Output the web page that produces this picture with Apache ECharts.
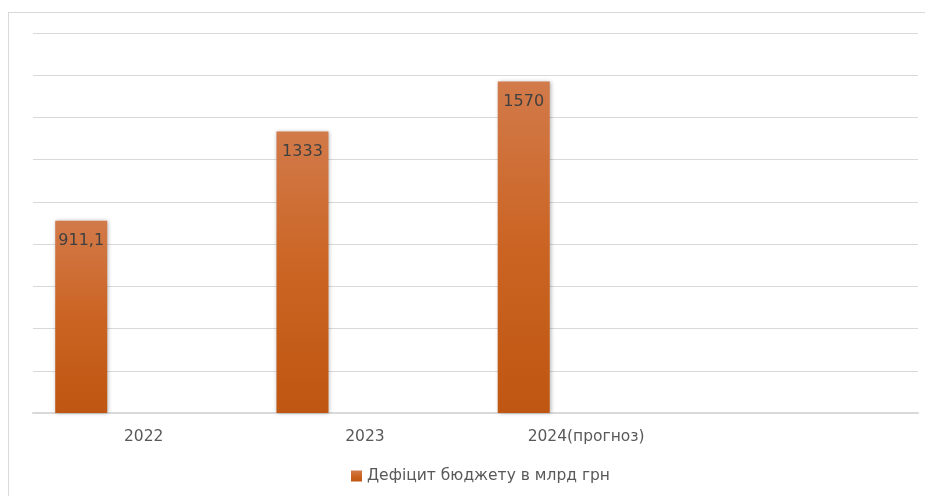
<!DOCTYPE html>
<html>
<head>
<meta charset="utf-8">
<script src="https://cdn.jsdelivr.net/npm/echarts@6/dist/echarts.min.js"></script>
<style>
html,body{margin:0;padding:0;background:#fff;}
#frame{position:absolute;left:8px;top:12px;width:917px;height:484px;border-left:1px solid #d9d9d9;border-top:1px solid #d9d9d9;}
#chart{position:absolute;left:0;top:0;width:925px;height:496px;}
</style>
</head>
<body>
<div id="frame"></div>
<div id="chart"></div>
<script>
const categories = ['2022', '2023', '2024(прогноз)', ''];
const deficit = [911.1, 1333, 1570, null];
const emptySeries = [null, null, null, null];
const seriesName = 'Дефіцит бюджету в млрд грн';
const yMax = 1800;
const yInterval = 200;

const chart = echarts.init(document.getElementById('chart'), null, {renderer: 'canvas'});
const barColor = new echarts.graphic.LinearGradient(0, 0, 0, 1, [
  {offset: 0, color: '#d27a4a'},
  {offset: 0.5, color: '#cb6423'},
  {offset: 1, color: '#bf5611'}
]);
const FONT = 'DejaVu Sans';
chart.setOption({
  animation: false,
  textStyle: {fontFamily: FONT},
  grid: {left: 33, right: 7, top: 33, bottom: 83, containLabel: false},
  legend: {
    data: [seriesName],
    top: 463,
    left: 346,
    itemWidth: 11,
    itemHeight: 11,
    itemGap: 4,
    icon: 'rect',
    textStyle: {color: '#595959', fontSize: 15.5, fontFamily: FONT}
  },
  xAxis: {
    type: 'category',
    data: categories,
    axisLine: {lineStyle: {color: '#d9d9d9', width: 2}},
    axisTick: {show: false},
    axisLabel: {color: '#595959', fontSize: 15.5, margin: 16, fontFamily: FONT}
  },
  yAxis: {
    type: 'value',
    min: 0,
    max: yMax,
    interval: yInterval,
    axisLine: {show: false},
    axisTick: {show: false},
    axisLabel: {show: false},
    splitLine: {lineStyle: {color: '#d9d9d9', width: 1}}
  },
  series: [
    {
      name: seriesName,
      type: 'bar',
      data: deficit,
      barWidth: 52,
      barGap: '20%',
      itemStyle: {
        color: barColor,
        shadowBlur: 4,
        shadowColor: 'rgba(0,0,0,0.3)',
        shadowOffsetX: 1,
        shadowOffsetY: 0
      },
      label: {
        show: true,
        position: 'insideTop',
        distance: 12,
        color: '#404040',
        fontSize: 16,
        fontFamily: FONT,
        formatter: p => String(p.value).replace('.', ',')
      }
    },
    {name: 's2', type: 'bar', data: emptySeries, barWidth: 52, barGap: '20%'},
    {name: 's3', type: 'bar', data: emptySeries, barWidth: 52, barGap: '20%'}
  ]
});
</script>
</body>
</html>
